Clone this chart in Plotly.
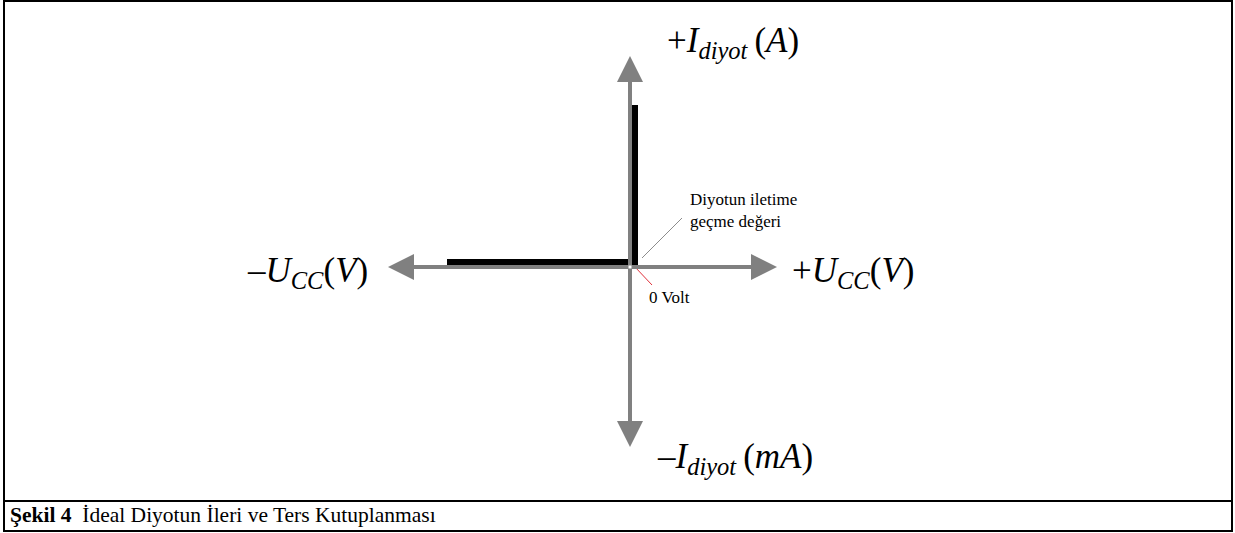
import plotly.graph_objects as go

# axis arrow tips (arbitrary units, origin = 0 V / 0 A)
axis_tip_v = [-2.42, 1.47, 0.0, 0.0]
axis_tip_i = [0.0, 0.0, 2.11, -1.80]

# ideal diode characteristic
diode_v = [-1.83, 0.05, 0.05]
diode_i = [0.05, 0.05, 1.62]

# leader lines for the notes
knee_v = [0.12, 0.52]
knee_i = [0.09, 0.49]
zero_v = [0.05, 0.22]
zero_i = [0.0, -0.18]

gray = "#808080"
serif = "Liberation Serif"

fig = go.Figure()

fig.add_trace(go.Scatter(x=diode_v, y=diode_i, mode="lines",
                         line=dict(color="black", width=6), hoverinfo="skip"))
fig.add_trace(go.Scatter(x=knee_v, y=knee_i, mode="lines",
                         line=dict(color="#8c8c8c", width=1), hoverinfo="skip"))
fig.add_trace(go.Scatter(x=zero_v, y=zero_i, mode="lines",
                         line=dict(color="#e0303a", width=1), hoverinfo="skip"))

# gray axes with arrow heads
for v, i in zip(axis_tip_v, axis_tip_i):
    fig.add_annotation(x=v, y=i, ax=0, ay=0, xref="x", yref="y", axref="x", ayref="y",
                       text="", showarrow=True, arrowhead=2, arrowsize=1.3,
                       arrowwidth=4, arrowcolor=gray, standoff=0)

big = dict(family=serif, size=35, color="black")
small = dict(family=serif, size=17, color="black")
thin = "\u2009"

fig.add_annotation(x=0.35, y=2.25, xref="x", yref="y", xanchor="left", yanchor="middle",
                   text="+<i>I</i><sub><i>diyot</i></sub>" + thin + "(<i>A</i>)",
                   showarrow=False, font=big)
fig.add_annotation(x=-2.60, y=-0.05, xref="x", yref="y", xanchor="right", yanchor="middle",
                   text="\u2013<i>U</i><sub><i>CC</i></sub>(<i>V</i>)", showarrow=False, font=big)
fig.add_annotation(x=1.60, y=-0.05, xref="x", yref="y", xanchor="left", yanchor="middle",
                   text="+<i>U</i><sub><i>CC</i></sub>(<i>V</i>)", showarrow=False, font=big)
fig.add_annotation(x=0.25, y=-1.91, xref="x", yref="y", xanchor="left", yanchor="middle",
                   text="\u2013<i>I</i><sub><i>diyot</i></sub>" + thin + "(<i>mA</i>)",
                   showarrow=False, font=big)

fig.add_annotation(x=0.58, y=0.57, xref="x", yref="y", xanchor="left", yanchor="middle",
                   text="Diyotun iletime<br>geçme değeri", showarrow=False, align="left",
                   font=small)
fig.add_annotation(x=0.17, y=-0.30, xref="x", yref="y", xanchor="left", yanchor="middle",
                   text="0 Volt", showarrow=False, font=small)

# caption
fig.add_annotation(x=8 / 1235, y=1 - 515 / 533, xref="paper", yref="paper",
                   xanchor="left", yanchor="middle",
                   text="<b>Şekil 4</b>\u00a0\u00a0İdeal Diyotun İleri ve Ters Kutuplanması",
                   showarrow=False, font=dict(family=serif, size=21.5, color="black"))

# frame
frame = dict(color="black", width=2)
fig.add_shape(type="rect", xref="paper", yref="paper",
              x0=4 / 1235, x1=1232 / 1235, y0=1 - 531 / 533, y1=1 - 1 / 533, line=frame)
fig.add_shape(type="line", xref="paper", yref="paper",
              x0=4 / 1235, x1=1232 / 1235, y0=1 - 501 / 533, y1=1 - 501 / 533, line=frame)

fig.update_layout(
    width=1235, height=533,
    margin=dict(l=0, r=0, t=0, b=0),
    paper_bgcolor="white", plot_bgcolor="white",
    showlegend=False,
    xaxis=dict(range=[-6.30, 6.05], visible=False, fixedrange=True),
    yaxis=dict(range=[-2.66, 2.67], visible=False, fixedrange=True),
)

fig.write_html("out.html", config={"displayModeBar": False},
               post_script="document.body.style.margin='0';")
